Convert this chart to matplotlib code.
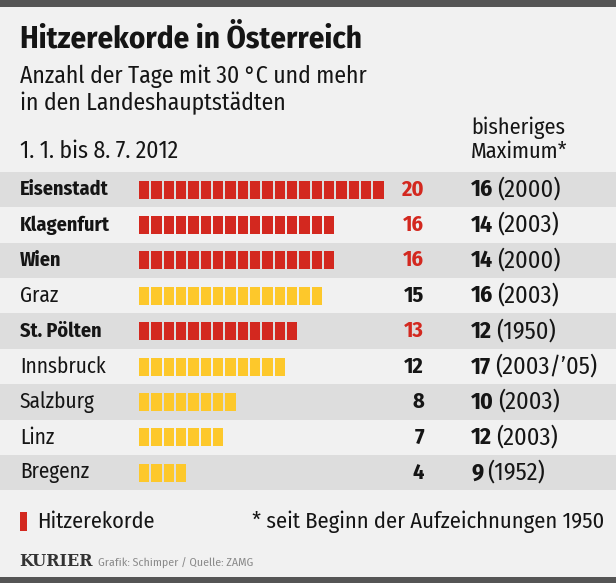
import matplotlib
matplotlib.use('Agg')
import matplotlib.pyplot as plt
from matplotlib.patches import Rectangle
from matplotlib import font_manager

# ---- data ----
cities = ['Eisenstadt', 'Klagenfurt', 'Wien', 'Graz', 'St. Pölten',
          'Innsbruck', 'Salzburg', 'Linz', 'Bregenz']
days_2012 = [20, 16, 16, 15, 13, 12, 8, 7, 4]
record = [True, True, True, False, True, False, False, False, False]
prev_max = [16, 14, 14, 16, 12, 17, 10, 12, 9]
prev_year = ['(2000)', '(2003)', '(2000)', '(2003)', '(1950)',
             '(2003/’05)', '(2003)', '(2003)', '(1952)']

RED = '#d3281f'
YELLOW = '#fdc82b'
BG = '#f1f1f1'
BAND = '#dddddd'
BORDER = '#555555'
INK = '#151515'

# pick a condensed sans that is installed
installed = {f.name for f in font_manager.fontManager.ttflist}
wanted = ['Fira Sans Condensed', 'Barlow Semi Condensed', 'Roboto Condensed',
          'Asap Condensed', 'Archivo Narrow', 'Saira SemiCondensed']
FONT = [f for f in wanted if f in installed][:1] + ['DejaVu Sans']
plt.rcParams['font.family'] = FONT

W, H = 616, 583
fig = plt.figure(figsize=(W / 100, H / 100), dpi=100)
fig.patch.set_facecolor(BG)
ax = fig.add_axes([0, 0, 1, 1])
ax.set_xlim(0, W)
ax.set_ylim(H, 0)
ax.axis('off')

# borders
ax.add_patch(Rectangle((0, 0), W, 7, color=BORDER, lw=0))
ax.add_patch(Rectangle((0, H - 6), W, 6, color=BORDER, lw=0))

# header
ax.text(20, 39, 'Hitzerekorde in Österreich', fontsize=22.3, weight='bold',
        va='center', ha='left', color=INK)
ax.text(20, 76, 'Anzahl der Tage mit 30 °C und mehr', fontsize=17,
        va='center', color=INK)
ax.text(20, 103, 'in den Landeshauptstädten', fontsize=17,
        va='center', color=INK)
ax.text(20, 151, '1. 1. bis 8. 7. 2012', fontsize=17, va='center', color=INK)
ax.text(471, 128, 'bisheriges', fontsize=16, va='center', color=INK)
ax.text(471, 152, 'Maximum*', fontsize=16, va='center', color=INK)

row0, pitch = 189.5, 35.4
x0, seg_pitch, seg_w, bar_h = 139, 12.33, 10.3, 18

fig.canvas.draw()
renderer = fig.canvas.get_renderer()

for i, city in enumerate(cities):
    y = row0 + i * pitch
    if i % 2 == 0:
        ax.add_patch(Rectangle((0, y - pitch / 2), W, pitch, color=BAND, lw=0, zorder=0))
    col = RED if record[i] else YELLOW
    lefts = [x0 + k * seg_pitch for k in range(days_2012[i])]
    ax.bar(lefts, bar_h, width=seg_w, bottom=y - bar_h / 2, align='edge',
           color=col, lw=0, zorder=2)
    ax.text(20, y, city, fontsize=14.5 if record[i] else 15.3, va='center',
            weight='bold' if record[i] else 'normal', color=INK)
    ax.text(424, y, str(days_2012[i]), fontsize=16, va='center', ha='right',
            weight='bold', color=RED if record[i] else INK)
    t = ax.text(471, y, str(prev_max[i]), fontsize=17, va='center',
                weight='bold', color=INK)
    bb = t.get_window_extent(renderer)
    ax.text(471 + bb.width + 4, y, prev_year[i], fontsize=17.5, va='center',
            color=INK)

# legend and footnote
ax.add_patch(Rectangle((20, 512), 7, 19, color=RED, lw=0))
ax.text(37, 522, 'Hitzerekorde', fontsize=16, va='center', color=INK)
ax.text(604, 522, '* seit Beginn der Aufzeichnungen 1950', fontsize=16.2,
        va='center', ha='right', color=INK)

k = ax.text(19, 562, 'KURIER', fontsize=11.5, va='center', weight='bold',
            family=['DejaVu Serif'], color='#333333')
kb = k.get_window_extent(renderer)
ax.text(19 + kb.width + 6, 562, 'Grafik: Schimper / Quelle: ZAMG', fontsize=8.5,
        va='center', color='#8a8a8a')

fig.savefig('out.png', dpi=100, facecolor=BG)
